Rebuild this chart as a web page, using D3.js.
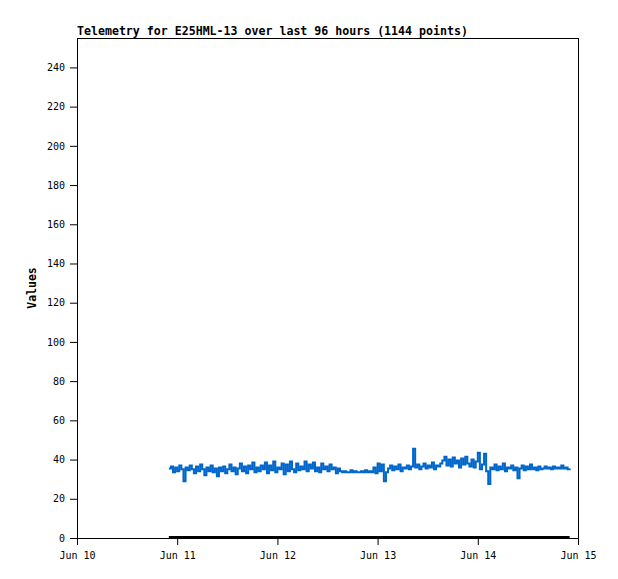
<!DOCTYPE html>
<html>
<head>
<meta charset="utf-8">
<script src="https://cdn.jsdelivr.net/npm/d3@7"></script>
<style>
  body { margin: 0; background: #fff; }
  svg text { font-family: "DejaVu Sans Mono", "Liberation Mono", monospace; fill: #000; }
</style>
</head>
<body>
<div id="chart"></div>
<script>
// telemetry readings, one every 30 minutes
const startTime = new Date(2024, 5, 10, 22, 0);
const stepMinutes = 30;

const day1 = [35.5, 36.5, 33.5, 36, 34, 37, 35, 29, 36, 34.5, 37, 35, 33, 36.5, 34, 37.5, 35, 32, 36, 34,
  37, 33.5, 35.5, 31.5, 36, 34, 36.5, 33, 35, 37.5, 34, 36, 32.5, 35.5, 38, 34, 36.5, 33, 37, 35,
  38.5, 33.5, 36, 34, 37, 35, 38.5, 33];
const day2 = [37, 34.5, 39, 33.5, 36, 35, 38, 32.5, 37.5, 34, 39, 35, 33.5, 38, 34.5, 36.5,
  35, 39, 34, 37.5, 35.5, 38.5, 34, 36, 33.5, 38, 35, 36.5, 34, 37.5, 35, 36, 33, 35.5, 34,
  33.5, 34, 33.5, 33.5, 34.5, 33.5, 34, 33.5, 33.5, 34, 33.5, 34.5, 33.5];
const day3 = [34, 33.5, 36, 33, 38, 34, 37.5, 29, 33.5,
  35.5, 37, 34.5, 36.5, 35, 37.5, 34, 36, 35.5, 37, 35, 36.5, 45.5,
  36, 37.5, 35, 36.5, 38, 35.5, 37, 36, 38.5, 35, 37, 36.5, 38,
  39.5, 41.5, 37, 40, 36.5, 41, 38, 39.5, 36, 40.5, 37.5, 41.5, 38, 36.5];
const day4 = [40, 36, 39, 43.5, 35, 37.5, 43, 34, 27.5, 36,
  35, 37.5, 34.5, 36.5, 35, 38, 34, 36, 35.5, 37, 34.5, 36, 30.5, 35.5, 37, 34.5, 36.5, 35, 37.5, 35,
  36, 34.5, 36.5, 35, 35.5, 36.5, 35.5, 36, 35, 36.5, 35.5, 36, 35.5, 37, 35.5, 36, 35, 35.5];

const values = day1.concat(day2, day3, day4);
const baseline = values.map(() => 0);

const yTicks = [0, 20, 40, 60, 80, 100, 120, 140, 160, 180, 200, 220, 240];
const xTickDays = [10, 11, 12, 13, 14, 15];
const titleText = 'Telemetry for E25HML-13 over last 96 hours (1144 points)';

const totalWidth = 618;
const totalHeight = 579;
const margin = { top: 38, right: 40, bottom: 41, left: 77 };
const width = totalWidth - margin.left - margin.right;
const height = totalHeight - margin.top - margin.bottom;

const svg = d3.select('#chart')
  .append('svg')
  .attr('width', totalWidth)
  .attr('height', totalHeight);

const g = svg.append('g')
  .attr('transform', `translate(${margin.left},${margin.top})`);

const x = d3.scaleTime()
  .domain([new Date(2024, 5, 10), new Date(2024, 5, 15)])
  .range([0, width]);
const y = d3.scaleLinear()
  .domain([0, 255])
  .range([height, 0]);

const timeOf = i => new Date(startTime.getTime() + i * stepMinutes * 60000);

// frame
g.append('rect')
  .attr('x', 0.5).attr('y', 0.5)
  .attr('width', width).attr('height', height)
  .attr('fill', 'none')
  .attr('stroke', '#000')
  .attr('stroke-width', 1);

// series
const line = d3.line()
  .curve(d3.curveStepAfter)
  .x((d, i) => x(timeOf(i)))
  .y(d => y(d));

g.append('path')
  .datum(values)
  .attr('fill', 'none')
  .attr('stroke', '#0066cc')
  .attr('stroke-width', 2)
  .attr('d', line);

g.append('path')
  .datum(baseline)
  .attr('fill', 'none')
  .attr('stroke', '#000')
  .attr('stroke-width', 2)
  .attr('transform', 'translate(0,-1)')
  .attr('d', line);

// axes
const yAxis = g.append('g')
  .call(d3.axisLeft(y).tickValues(yTicks).tickSize(7).tickPadding(5));
yAxis.select('.domain').remove();
yAxis.selectAll('text').style('font-size', '10px');

const xAxis = g.append('g')
  .attr('transform', `translate(0,${height})`)
  .call(d3.axisBottom(x)
    .tickValues(xTickDays.map(d => new Date(2024, 5, d)))
    .tickFormat(d3.timeFormat('Jun %d'))
    .tickSize(7).tickPadding(7));
xAxis.select('.domain').remove();
xAxis.selectAll('text').style('font-size', '10px');

g.append('line')
  .attr('x1', 0.5).attr('x2', 0.5)
  .attr('y1', 0).attr('y2', height)
  .attr('stroke', '#000');

// title and label
svg.append('text')
  .attr('x', margin.left)
  .attr('y', 35)
  .style('font-size', '11.6px')
  .style('font-weight', 'bold')
  .text(titleText);

svg.append('text')
  .attr('transform', `translate(36,${margin.top + height / 2}) rotate(-90)`)
  .attr('text-anchor', 'middle')
  .style('font-size', '11.5px')
  .style('font-weight', 'bold')
  .text('Values');
</script>
</body>
</html>
